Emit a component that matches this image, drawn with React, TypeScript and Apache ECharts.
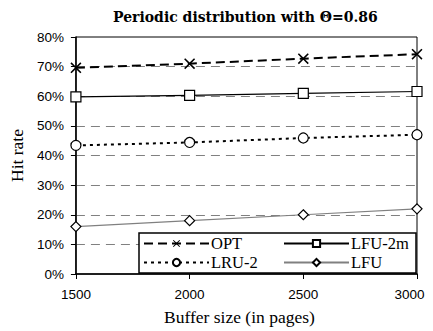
import React, { useEffect, useRef } from "react";
import * as echarts from "echarts";

const bufferSizes = [1500, 2000, 2500, 3000];
const optValues = [69.6, 71.0, 72.7, 74.2];
const lfu2mValues = [59.8, 60.3, 61.0, 61.6];
const lru2Values = [43.4, 44.4, 45.9, 47.0];
const lfuValues = [16.0, 18.0, 20.0, 22.0];
const yTicks = [0, 10, 20, 30, 40, 50, 60, 70, 80];

const serif = "'Liberation Serif', 'Times New Roman', serif";
const sans = "'Liberation Sans', Arial, sans-serif";

const crossPath =
  "path://M0,1L1,0L5,4L9,0L10,1L6,5L10,9L9,10L5,6L1,10L0,9L4,5Z";
const diamondPath = "path://M5,0L10,5L5,10L0,5Z";

function pairs(vals: number[]) {
  return bufferSizes.map((x, i) => [x, vals[i]]);
}

const legendText = {
  fontFamily: serif,
  fontSize: 16.5,
  color: "#000",
  lineHeight: 17,
  padding: [0, 0, 0, -3],
};

export default function App() {
  const ref = useRef<HTMLDivElement>(null);
  useEffect(() => {
    if (!ref.current) return;
    const chart = echarts.init(ref.current, null, { renderer: "svg" });
    chart.setOption({
      animation: false,
      title: {
        text: "Periodic distribution with \u0398=0.86",
        left: 108,
        top: 5,
        textStyle: {
          fontFamily: "'DejaVu Serif', serif",
          fontSize: 14,
          fontWeight: "bold",
          color: "#000",
        },
      },
      grid: {
        left: 69,
        right: 16,
        top: 37,
        bottom: 54,
        show: true,
        borderColor: "#000",
        borderWidth: 1,
        backgroundColor: "transparent",
      },
      xAxis: {
        type: "value",
        min: 1500,
        max: 3000,
        interval: 500,
        name: "Buffer size (in pages)",
        nameLocation: "middle",
        nameGap: 34,
        nameTextStyle: {
          fontFamily: serif,
          fontSize: 17.5,
          color: "#000",
          padding: [0, 14, 0, 0],
        },
        axisLine: { show: true, lineStyle: { color: "#000", width: 1.5 } },
        axisTick: { show: true, length: 5, lineStyle: { color: "#000" } },
        axisLabel: {
          fontFamily: sans,
          fontSize: 13.5,
          color: "#000",
          margin: 13,
          formatter: (v: number) => (v === 3000 ? "{r|" + v + "}" : String(v)),
          rich: {
            r: {
              fontFamily: sans,
              fontSize: 13.5,
              color: "#000",
              padding: [0, 15, 0, 0],
            },
          },
        },
        splitLine: { show: false },
      },
      yAxis: {
        type: "value",
        min: 0,
        max: 80,
        interval: 10,
        name: "Hit rate",
        nameLocation: "middle",
        nameGap: 47,
        nameRotate: 90,
        nameTextStyle: { fontFamily: serif, fontSize: 17.5, color: "#000" },
        axisLine: { show: true, lineStyle: { color: "#000", width: 1.5 } },
        axisTick: { show: true, length: 5, lineStyle: { color: "#000" } },
        axisLabel: {
          fontFamily: sans,
          fontSize: 13.5,
          color: "#000",
          margin: 12,
          formatter: (v: number) => (yTicks.includes(v) ? v + "%" : ""),
        },
        splitLine: {
          show: true,
          showMinLine: false,
          showMaxLine: false,
          lineStyle: { color: "#808080", type: [9, 6], width: 1 },
        },
      },
      legend: [
        {
          data: ["OPT", "LRU-2"],
          orient: "vertical",
          left: 143,
          top: 235,
          itemWidth: 65,
          itemHeight: 9,
          itemGap: 2,
          padding: 0,
          textStyle: legendText,
          z: 5,
        },
        {
          data: ["LFU-2m", "LFU"],
          orient: "vertical",
          left: 283,
          top: 235,
          itemWidth: 65,
          itemHeight: 9,
          itemGap: 2,
          padding: 0,
          textStyle: legendText,
          z: 5,
        },
      ],
      graphic: [
        {
          type: "rect",
          z: 3,
          shape: { x: 139, y: 233, width: 277, height: 40 },
          style: { fill: "#fff", stroke: "#000", lineWidth: 1.5 },
        },
      ],
      series: [
        {
          name: "OPT",
          type: "line",
          data: pairs(optValues),
          symbol: crossPath,
          symbolSize: 11,
          lineStyle: { color: "#000", width: 2, type: [9, 5] },
          itemStyle: { color: "#000", borderWidth: 0 },
          z: 2,
        },
        {
          name: "LFU-2m",
          type: "line",
          data: pairs(lfu2mValues),
          symbol: "rect",
          symbolSize: 10,
          lineStyle: { color: "#000", width: 1.2, type: "solid" },
          itemStyle: { color: "#fff", borderColor: "#000", borderWidth: 1.2 },
          z: 2,
        },
        {
          name: "LRU-2",
          type: "line",
          data: pairs(lru2Values),
          symbol: "circle",
          symbolSize: 10,
          lineStyle: { color: "#000", width: 2, type: [3, 4] },
          itemStyle: { color: "#fff", borderColor: "#000", borderWidth: 1.2 },
          z: 2,
        },
        {
          name: "LFU",
          type: "line",
          data: pairs(lfuValues),
          symbol: diamondPath,
          symbolSize: 10,
          lineStyle: { color: "#808080", width: 1.2, type: "solid" },
          itemStyle: { color: "#fff", borderColor: "#000", borderWidth: 1.2 },
          z: 2,
        },
      ],
    });
    return () => chart.dispose();
  }, []);
  return <div ref={ref} style={{ width: 433, height: 331, marginLeft: -8, marginTop: -8 }} />;
}
